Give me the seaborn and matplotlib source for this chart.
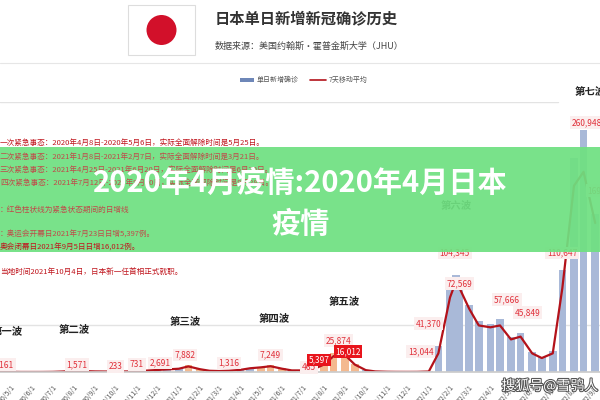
import matplotlib
matplotlib.use("Agg")
import matplotlib.pyplot as plt
import matplotlib.patches as mpatches
import matplotlib.patheffects as pe
import seaborn as sns
import pandas as pd

sns.set_theme(style="white")
plt.rcParams['font.family'] = ['Noto Sans CJK SC', 'DejaVu Sans']

dates = ["2020-04-15","2020-05-01","2020-05-15","2020-06-01","2020-06-15","2020-07-01","2020-07-15","2020-08-01","2020-08-15","2020-09-01","2020-09-15","2020-10-01","2020-10-15","2020-11-01","2020-11-15","2020-12-01","2020-12-15",
         "2021-01-01","2021-01-15","2021-02-01","2021-02-15","2021-03-01","2021-03-15","2021-04-01","2021-04-15","2021-05-01","2021-05-15","2021-06-01","2021-06-15","2021-07-01","2021-07-15","2021-08-01","2021-08-15","2021-09-01","2021-09-15","2021-10-01","2021-10-15","2021-11-01","2021-11-15","2021-12-01","2021-12-15",
         "2022-01-01","2022-01-15","2022-02-01","2022-02-10","2022-02-15","2022-03-01","2022-03-15","2022-04-01","2022-04-15","2022-05-01","2022-05-15","2022-06-01","2022-06-15","2022-07-01","2022-07-15","2022-08-01","2022-08-15","2022-09-01"]
avg7 = [500,200,50,40,50,150,500,1300,1000,600,500,500,550,700,1500,2200,2800,
        3500,6000,3000,1300,1000,1300,2300,4000,5000,6200,3500,1700,1700,2500,8000,17000,18000,8000,2000,600,250,150,120,150,
        500,20000,80000,98000,90000,68000,50000,48000,50000,35000,38000,20000,15000,20000,90000,200000,215000,160000]
daily = [600,250,60,45,60,180,600,1500,1100,650,520,520,600,800,1700,2400,3000,
         4000,7500,3200,1400,1100,1400,2500,4500,5500,7000,3800,1800,1800,2800,9500,20000,19000,8500,2200,650,260,160,130,160,
         600,28000,95000,104000,92000,72000,55000,52000,57000,38000,42000,22000,16000,23000,110000,230000,260000,170000]
emergency = [1 if ("2021-01-08" <= d <= "2021-03-21") or ("2021-04-25" <= d <= "2021-09-30") or ("2020-04-08" <= d <= "2020-05-25") else 0 for d in dates]

ann_dates = ["2020-04-20","2020-08-05","2020-10-01","2020-11-01","2020-12-05","2021-01-10","2021-03-15","2021-05-15","2021-07-10","2021-07-25","2021-08-22","2021-09-05","2021-12-20","2022-01-01","2022-02-15","2022-04-25","2022-05-25","2022-02-08","2022-07-15","2022-08-20","2022-09-05"]
ann_text = ["4,161","1,571","233","731","2,691","7,882","1,316","7,249","465","5,397","25,874","16,012","13,044","41,370","72,569","57,666","45,849","104,345","110,647","260,948","169,4"]
ann_y = [8000,8000,6000,8000,10000,18000,10000,18000,5000,13000,34000,22000,22000,52000,95000,78000,64000,128000,128000,268000,195000]
waves = ["第一波","第二波","第三波","第四波","第五波","第六波","第七波"]
wave_dates = ["2020-04-25","2020-08-01","2021-01-10","2021-05-20","2021-08-30","2022-02-10","2022-08-25"]
wave_y = [40000,42000,51000,54000,72000,175000,297000]

df = pd.DataFrame({"date": pd.to_datetime(dates), "avg": avg7, "daily": daily, "em": emergency})

fig = plt.figure(figsize=(6, 4), dpi=100)
fig.patch.set_facecolor("white")
ax = fig.add_axes([0, 0.07, 1, 0.675])
cols = ["#f4b98f" if e else "#a9b9d8" for e in df["em"]]
ax.bar(df["date"], df["daily"], width=11, color=cols, edgecolor="none", label="单日新增确诊")
sns.lineplot(data=df, x="date", y="avg", ax=ax, color="#b3121a", lw=1.6, label="7天移动平均")
ax.set_xlim(pd.Timestamp("2020-04-15"), pd.Timestamp("2022-09-08"))
ax.set_ylim(0, 290000)
ax.set_yticks([])
ax.axhline(50000, color="#e3e3e3", lw=1, zorder=0)
ax.axhline(290000, xmax=0.93, color="#e3e3e3", lw=1)
for s in ["top", "right", "left"]:
    ax.spines[s].set_visible(False)
ax.spines["bottom"].set_color("#cccccc")
ticks = pd.date_range("2020-05-01", "2022-09-01", freq="MS")
ax.set_xticks(ticks)
ax.set_xticklabels([f"{t.year%100}/{t.month}/1" for t in ticks], rotation=50, fontsize=5, color="#555555", ha="right", rotation_mode="anchor")
ax.tick_params(axis="x", pad=2)
ax.set_xlabel(""); ax.set_ylabel("")
ax.legend_.remove()
for d, t, y in zip(ann_dates, ann_text, ann_y):
    red = t in ("5,397", "16,012")
    ax.text(pd.Timestamp(d), y, t, fontsize=6, ha="center", va="center",
            color="white" if red else "#e0303a",
            bbox=dict(boxstyle="square,pad=0.2", fc="#e8141c" if red else "#fbeeee", ec="none"))
for w, d, y in zip(waves, wave_dates, wave_y):
    ax.text(pd.Timestamp(d), y, w, fontsize=7.5, fontweight="bold", ha="center", color="#222222")

# header
fig.add_artist(mpatches.Rectangle((128/600, 1-55/400), 67/600, 50/400, fc="white", ec="#dddddd", lw=0.8, transform=fig.transFigure))
fig.add_artist(mpatches.Ellipse((161.5/600, 1-30/400), 30/600, 30/400, fc="#d2102a", ec="none", transform=fig.transFigure))
fig.text(215/600, 1-18/400, "日本单日新增新冠确诊历史", fontsize=11, fontweight="bold", color="#333333", va="center")
fig.text(215/600, 1-46/400, "数据来源：美国约翰斯·霍普金斯大学（JHU）", fontsize=6.5, color="#444444", va="center")
fig.add_artist(plt.Line2D([0, 1], [1-63/400]*2, color="#e6e6e6", lw=0.8, transform=fig.transFigure))
fig.add_artist(mpatches.Rectangle((240/600, 1-82/400), 14/600, 4/400, fc="#6e87b8", ec="none", transform=fig.transFigure))
fig.text(257/600, 1-80/400, "单日新增确诊", fontsize=5, color="#555555", va="center")
fig.add_artist(plt.Line2D([310/600, 326/600], [1-80/400]*2, color="#b3121a", lw=1.2, transform=fig.transFigure))
fig.text(329/600, 1-80/400, "7天移动平均", fontsize=5, color="#555555", va="center")

notes = [(143, "一次紧急事态：2020年4月8日-2020年5月6日，实际全面解除时间是5月25日。", "#c0161e"),
         (157, "二次紧急事态：2021年1月8日-2021年2月7日，实际全面解除时间是3月21日。", "#c04a4a"),
         (170, "三次紧急事态：2021年4月25日-2021年6月20日，实际全面解除时间是6月20日。", "#c04a4a"),
         (183, "四次紧急事态：2021年7月12日-2021年9月30日，实际全面解除时间是9月28日。", "#c04a4a"),
         (210, "：红色柱状线为紧急状态期间的日增线", "#c04a4a"),
         (235, "：奥运会开幕日2021年7月23日日增5,397例。", "#c04a4a"),
         (248, "奥会闭幕日2021年9月5日日增16,012例。", "#c0161e"),
         (272, "当地时间2021年10月4日，日本新一任首相正式就职。", "#c0161e")]
for y, t, c in notes:
    fig.text(0, 1-y/400, t, fontsize=5.5, color=c, va="center")

# banner
fig.add_artist(mpatches.Rectangle((0, 1-252/400), 1, 105/400, fc="#6fe081", ec="none", alpha=0.93, transform=fig.transFigure))
fig.text(0.5, 1-183/400, "2020年4月疫情:2020年4月日本", fontsize=21, fontweight="bold", color="white", ha="center", va="center")
fig.text(0.5, 1-224/400, "疫情", fontsize=21, fontweight="bold", color="white", ha="center", va="center")
fig.text(598/600, 1-386/400, "搜狐号@雪鸮人", fontsize=10, color="white", ha="right", va="center",
         path_effects=[pe.withStroke(linewidth=1.5, foreground="#555555")])

fig.savefig("out.png", dpi=100, facecolor="white")
